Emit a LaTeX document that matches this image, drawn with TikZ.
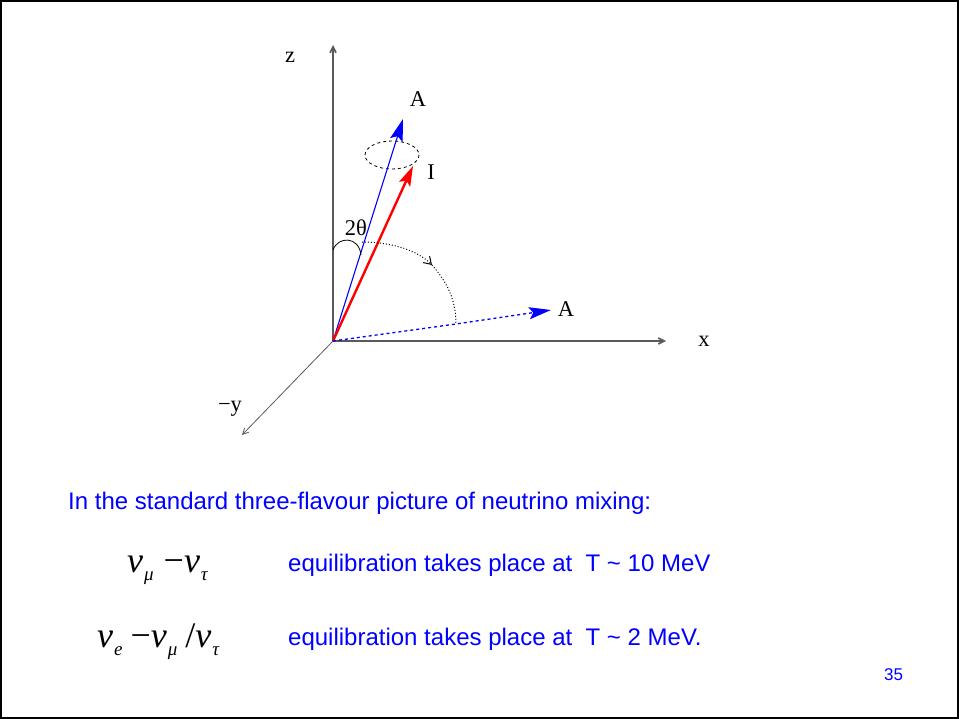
\documentclass[tikz,border=0pt]{standalone}
\usepackage{fontspec}
\setmainfont{Liberation Sans}
\newfontfamily\figfont{Liberation Serif}
\usetikzlibrary{arrows.meta}
\newcommand\nuof[1]{ν\kern1pt\raisebox{-8pt}{\fontsize{19}{20}\selectfont #1}}
\tikzset{
  axis/.style={draw=black!65,line width=1.6pt,-{Straight Barb[length=6pt,width=6pt]}},
  lbl/.style={font=\figfont\fontsize{22.5}{24}\selectfont},
  bluetext/.style={text=blue,font=\fontsize{24}{26}\selectfont,anchor=base west,inner sep=0pt},
  mixtext/.style={font=\figfont\itshape\fontsize{36}{38}\selectfont,anchor=base west,inner sep=0pt}
}
\begin{document}
\begin{tikzpicture}[x=1pt,y=-1pt]
\useasboundingbox (0,0) rectangle (959,719);
\draw[line width=1.5pt] (1,1) rectangle (958,718);
% axes
\coordinate (O) at (333,341);
\coordinate (zend) at (333,45);
\coordinate (xend) at (666,341);
\coordinate (yend) at (242,435);
\draw[axis] (O) -- (zend);
\draw[axis] (O) -- (xend);
\draw[axis,line width=0.8pt] (O) -- (yend);
\node[lbl] (zlab) at (290,57) {z};
\node[lbl] (xlab) at (704,341) {x};
\node[lbl] (ylab) at (230,409) {−y};
% vectors
\coordinate (Atip) at (403,119);
\coordinate (Itip) at (413,166);
\coordinate (bend) at (456,324);
\coordinate (Axtip) at (551,310);
\draw[dashed,line width=0.8pt] (392,155) ellipse (27 and 14);
\draw[blue,line width=1.1pt,-{Stealth[length=22pt,width=13pt,inset=4pt]}] (O) -- (Atip);
\draw[red,line width=2.4pt,-{Stealth[length=20pt,width=12pt,inset=4pt]}] (O) -- (Itip);
\draw[blue,dashed,line width=1.3pt,-{Stealth[length=22pt,width=12pt,inset=4pt]}] (O) -- (bend) -- (Axtip);
\node[lbl] (Alab) at (418,99) {A};
\node[lbl] (Ilab) at (431,172) {I};
\node[lbl] (Axlab) at (566,309) {A};
% angles
\draw[line width=0.8pt] (333,250) .. controls (338,236) and (359,236) .. (361,255);
\node[lbl] (th) at (356,228) {2θ};
\draw[dotted,line width=1pt,-{Straight Barb[length=7pt,width=9pt]}] (362,242) .. controls (393,242) and (418,251) .. (432,265);
\draw[dotted,line width=1pt] (432,265) .. controls (447,282) and (456,300) .. (bend);
% text
\node[bluetext] (head) at (68,509) {In the standard three-flavour picture of neutrino mixing:};
\node[mixtext] (mix1) at (127,572) {\nuof{μ}\hspace{10pt}{\upshape −}\nuof{τ}};
\node[bluetext] (eq1) at (288,571) {equilibration takes place at~ T \textasciitilde{} 10 MeV};
\node[mixtext] (mix2) at (97,647) {\nuof{e}\hspace{8pt}{\upshape −}\nuof{μ}\hspace{8pt}{\upshape /}\nuof{τ}};
\node[bluetext] (eq2) at (288,645) {equilibration takes place at~ T \textasciitilde{} 2 MeV.};
\node[text=blue,font=\fontsize{17}{19}\selectfont,anchor=base west,inner sep=0pt] (page) at (884,680) {35};
\end{tikzpicture}
\end{document}
